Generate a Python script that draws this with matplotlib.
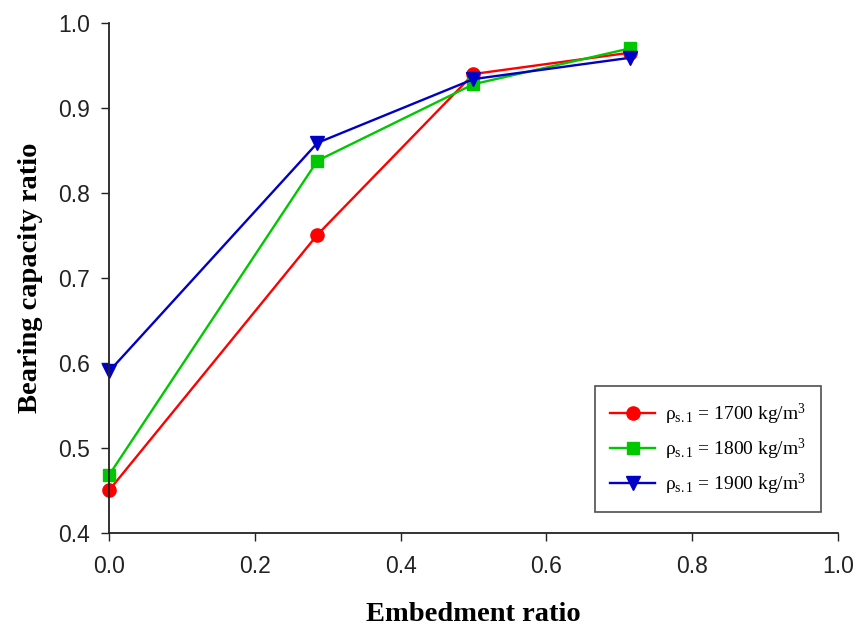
import matplotlib
matplotlib.use("Agg")
import matplotlib.pyplot as plt

embedment = [0.0, 0.286, 0.5, 0.714]
ratio_1700 = [0.45, 0.751, 0.940, 0.965]
ratio_1800 = [0.468, 0.838, 0.928, 0.970]
ratio_1900 = [0.590, 0.859, 0.934, 0.959]
labels = [r'ρ$_\mathregular{s.1}$ = 1700 kg/m$^\mathregular{3}$',
          r'ρ$_\mathregular{s.1}$ = 1800 kg/m$^\mathregular{3}$',
          r'ρ$_\mathregular{s.1}$ = 1900 kg/m$^\mathregular{3}$']

plt.rcParams['mathtext.fontset'] = 'custom'
plt.rcParams['mathtext.rm'] = 'Liberation Serif'
plt.rcParams['mathtext.it'] = 'Liberation Serif:italic'

fig = plt.figure(figsize=(8.56, 6.3), dpi=100)
ax = fig.add_axes([0.1273, 0.154, 0.8517, 0.8095])

ax.plot(embedment, ratio_1700, color='#ff0000', marker='o', ms=9.5, lw=1.7, label=labels[0], clip_on=False)
ax.plot(embedment, ratio_1800, color='#00c800', marker='s', ms=8.5, lw=1.7, label=labels[1], clip_on=False)
ax.plot(embedment, ratio_1900, color='#0000c8', marker='v', ms=9.5, lw=1.7, label=labels[2], clip_on=False)

ax.set_xlim(0, 1.0)
ax.set_ylim(0.4, 1.0)
ax.set_xticks([0.0, 0.2, 0.4, 0.6, 0.8, 1.0])
ax.set_yticks([0.4, 0.5, 0.6, 0.7, 0.8, 0.9, 1.0])
ax.set_xticklabels(['0.0', '0.2', '0.4', '0.6', '0.8', '1.0'])
ax.set_yticklabels(['0.4', '0.5', '0.6', '0.7', '0.8', '0.9', '1.0'])
for s in ['top', 'right']:
    ax.spines[s].set_visible(False)
for s in ['left', 'bottom']:
    ax.spines[s].set_linewidth(1.3)
    ax.spines[s].set_color('#222222')
ax.tick_params(direction='out', length=5.5, width=1, colors='#222222', labelsize=16.5)
ax.tick_params(axis='y', pad=8)
ax.tick_params(axis='x', pad=10.5)
for t in ax.get_xticklabels() + ax.get_yticklabels():
    t.set_fontfamily('Liberation Sans')

ax.set_xlabel('Embedment ratio', fontfamily='Liberation Serif', fontweight='bold', fontsize=20.5, labelpad=17)
ax.set_ylabel('Bearing capacity ratio', fontfamily='Liberation Serif', fontweight='bold', fontsize=20.5, labelpad=11)

leg = ax.legend(loc='lower right', bbox_to_anchor=(0.977, 0.041), fancybox=False, edgecolor='#222222',
                prop={'family': 'Liberation Serif', 'size': 14}, handlelength=2.3,
                borderpad=0.8, labelspacing=0.5, handletextpad=0.5, borderaxespad=0)
leg.get_frame().set_linewidth(1.2)

fig.savefig('out.png', dpi=100)
plt.close()
